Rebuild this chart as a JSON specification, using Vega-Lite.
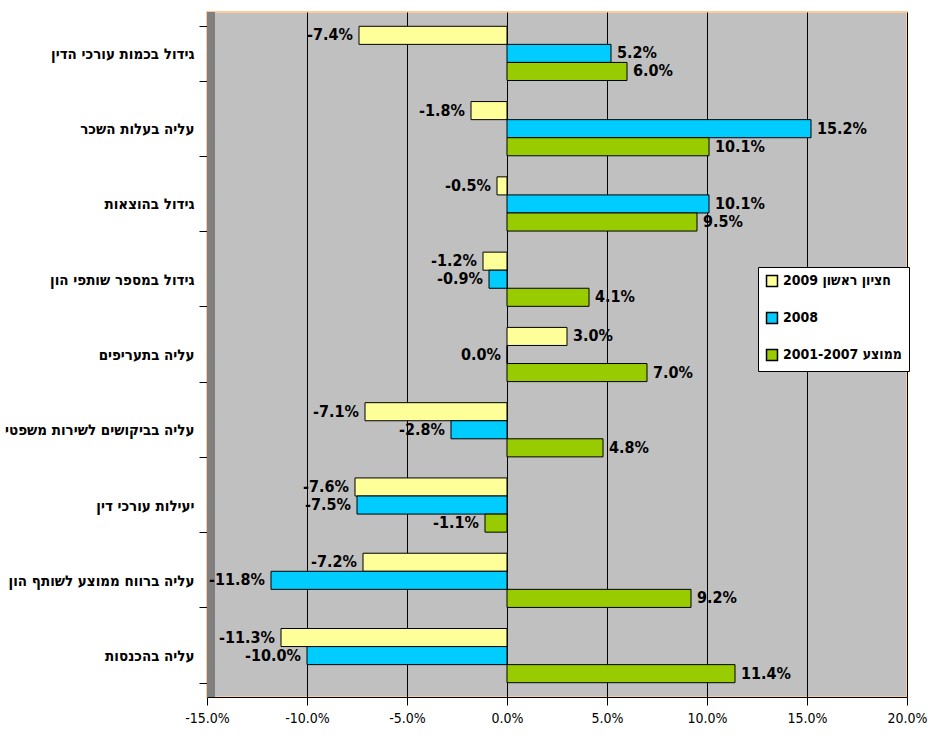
{
  "$schema": "https://vega.github.io/schema/vega-lite/v6.json",
  "width": 700,
  "height": 685,
  "autosize": {"type": "none"},
  "padding": {"left": 207, "top": 12, "right": 23, "bottom": 43},
  "background": "white",
  "config": {
    "view": {"fill": "#C0C0C0", "stroke": "#FFCC99", "strokeWidth": 2},
    "font": "DejaVu Sans Condensed",
    "locale": {"number": {"decimal": ".", "thousands": ",", "grouping": [3], "currency": ["$", ""], "minus": "-"}}
  },
  "data": {
    "values": [
      {"cat": "גידול בכמות עורכי הדין", "series": "2009 חציון ראשון", "value": -0.074},
      {"cat": "גידול בכמות עורכי הדין", "series": "2008", "value": 0.052},
      {"cat": "גידול בכמות עורכי הדין", "series": "2001-2007 ממוצע", "value": 0.060},
      {"cat": "עליה בעלות השכר", "series": "2009 חציון ראשון", "value": -0.018},
      {"cat": "עליה בעלות השכר", "series": "2008", "value": 0.152},
      {"cat": "עליה בעלות השכר", "series": "2001-2007 ממוצע", "value": 0.101},
      {"cat": "גידול בהוצאות", "series": "2009 חציון ראשון", "value": -0.005},
      {"cat": "גידול בהוצאות", "series": "2008", "value": 0.101},
      {"cat": "גידול בהוצאות", "series": "2001-2007 ממוצע", "value": 0.095},
      {"cat": "גידול במספר שותפי הון", "series": "2009 חציון ראשון", "value": -0.012},
      {"cat": "גידול במספר שותפי הון", "series": "2008", "value": -0.009},
      {"cat": "גידול במספר שותפי הון", "series": "2001-2007 ממוצע", "value": 0.041},
      {"cat": "עליה בתעריפים", "series": "2009 חציון ראשון", "value": 0.030},
      {"cat": "עליה בתעריפים", "series": "2008", "value": 0.0},
      {"cat": "עליה בתעריפים", "series": "2001-2007 ממוצע", "value": 0.070},
      {"cat": "עליה בביקושים לשירות משפטי", "series": "2009 חציון ראשון", "value": -0.071},
      {"cat": "עליה בביקושים לשירות משפטי", "series": "2008", "value": -0.028},
      {"cat": "עליה בביקושים לשירות משפטי", "series": "2001-2007 ממוצע", "value": 0.048},
      {"cat": "יעילות עורכי דין", "series": "2009 חציון ראשון", "value": -0.076},
      {"cat": "יעילות עורכי דין", "series": "2008", "value": -0.075},
      {"cat": "יעילות עורכי דין", "series": "2001-2007 ממוצע", "value": -0.011},
      {"cat": "עליה ברווח ממוצע לשותף הון", "series": "2009 חציון ראשון", "value": -0.072},
      {"cat": "עליה ברווח ממוצע לשותף הון", "series": "2008", "value": -0.118},
      {"cat": "עליה ברווח ממוצע לשותף הון", "series": "2001-2007 ממוצע", "value": 0.092},
      {"cat": "עליה בהכנסות", "series": "2009 חציון ראשון", "value": -0.113},
      {"cat": "עליה בהכנסות", "series": "2008", "value": -0.100},
      {"cat": "עליה בהכנסות", "series": "2001-2007 ממוצע", "value": 0.114}
    ]
  },
  "layer": [
    {
      "mark": {"type": "rule", "color": "#808080", "strokeWidth": 8, "xOffset": 4},
      "encoding": {"x": {"datum": -0.15, "type": "quantitative"}}
    },
    {
      "mark": {"type": "bar", "stroke": "black", "strokeWidth": 1},
      "encoding": {
        "y": {
          "field": "cat", "type": "nominal", "sort": null,
          "scale": {"paddingInner": 0.28, "paddingOuter": 0.19},
          "axis": {
            "title": null, "labelFontSize": 15, "labelFontWeight": "bold", "labelColor": "black",
            "labelPadding": 5, "tickBand": "extent", "tickColor": "black", "tickSize": 8,
            "domainColor": "#808080", "labelLimit": 300
          }
        },
        "yOffset": {"field": "series", "sort": ["2009 חציון ראשון", "2008", "2001-2007 ממוצע"]},
        "x": {
          "field": "value", "type": "quantitative",
          "scale": {"domain": [-0.15, 0.2], "nice": false, "zero": false},
          "axis": {
            "title": null, "format": ".1%", "values": [-0.15, -0.1, -0.05, 0, 0.05, 0.1, 0.15, 0.2],
            "grid": true, "gridColor": "black", "gridWidth": 1, "tickColor": "black", "tickSize": 8,
            "domainColor": "black", "labelFontSize": 14, "labelColor": "black", "labelPadding": 6,
            "labelFlush": false
          }
        },
        "color": {
          "field": "series", "type": "nominal",
          "scale": {"domain": ["2009 חציון ראשון", "2008", "2001-2007 ממוצע"], "range": ["#FFFF99", "#00CCFF", "#99CC00"]},
          "legend": {
            "title": null, "orient": "none", "legendX": 551, "legendY": 255,
            "fillColor": "white", "strokeColor": "black", "padding": 7,
            "symbolType": "square", "symbolSize": 120, "symbolStrokeColor": "black", "symbolStrokeWidth": 1.5,
            "labelFontSize": 14, "labelFontWeight": "bold", "labelColor": "black", "rowPadding": 19,
            "labelOffset": 4
          }
        }
      }
    },
    {
      "transform": [{"filter": "datum.value > 0"}],
      "mark": {"type": "text", "align": "left", "dx": 6, "fontSize": 16, "fontWeight": "bold", "color": "black", "baseline": "middle"},
      "encoding": {
        "y": {"field": "cat", "type": "nominal", "sort": null},
        "yOffset": {"field": "series", "sort": ["2009 חציון ראשון", "2008", "2001-2007 ממוצע"]},
        "x": {"field": "value", "type": "quantitative"},
        "text": {"field": "value", "type": "quantitative", "format": ".1%"}
      }
    },
    {
      "transform": [{"filter": "datum.value <= 0"}],
      "mark": {"type": "text", "align": "right", "dx": -6, "fontSize": 16, "fontWeight": "bold", "color": "black", "baseline": "middle"},
      "encoding": {
        "y": {"field": "cat", "type": "nominal", "sort": null},
        "yOffset": {"field": "series", "sort": ["2009 חציון ראשון", "2008", "2001-2007 ממוצע"]},
        "x": {"field": "value", "type": "quantitative"},
        "text": {"field": "value", "type": "quantitative", "format": ".1%"}
      }
    }
  ]
}
